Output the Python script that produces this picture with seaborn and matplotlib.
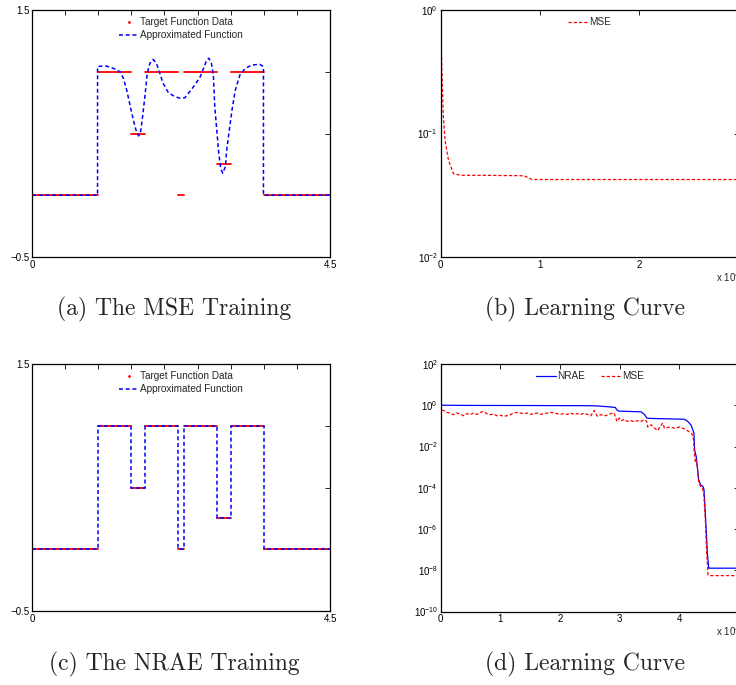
import numpy as np
import pandas as pd
import matplotlib
matplotlib.use("Agg")
import matplotlib.pyplot as plt
from matplotlib.lines import Line2D
from matplotlib.ticker import NullLocator
import seaborn as sns

# ---- target step function (same in both fits) ----
seg_start = [0.0, 1.0, 1.5, 1.7, 2.2, 2.3, 2.8, 3.0, 3.5]
seg_end = [1.0, 1.5, 1.7, 2.2, 2.3, 2.8, 3.0, 3.5, 4.5]
seg_level = [0.0, 1.0, 0.5, 1.0, 0.0, 1.0, 0.25, 1.0, 0.0]

# ---- (a) function approximated by the MSE training ----
mse_fit_x = [0.0, 0.99, 0.99, 1.03, 1.13, 1.23, 1.33, 1.38, 1.43, 1.48, 1.53, 1.57,
             1.61, 1.64, 1.67, 1.71, 1.74, 1.78, 1.83, 1.88, 1.93, 1.98, 2.06, 2.16,
             2.24, 2.31, 2.36, 2.46, 2.54, 2.59, 2.64, 2.67, 2.71, 2.74, 2.76, 2.79,
             2.82, 2.85, 2.88, 2.92, 2.94, 2.98, 3.02, 3.07, 3.14, 3.22, 3.32, 3.44,
             3.48, 3.495, 3.495, 4.5]
mse_fit_y = [0.0, 0.0, 1.04, 1.045, 1.045, 1.027, 1.0, 0.946, 0.852, 0.73, 0.61, 0.528,
             0.48, 0.515, 0.636, 0.825, 0.987, 1.068, 1.10, 1.068, 0.987, 0.906, 0.83, 0.798,
             0.785, 0.79, 0.825, 0.893, 0.96, 1.027, 1.095, 1.11, 1.068, 0.96, 0.717, 0.528,
             0.34, 0.218, 0.178, 0.231, 0.366, 0.528, 0.69, 0.852, 0.974, 1.027, 1.055, 1.06,
             1.046, 1.04, 0.0, 0.0]

# ---- (b) learning curve of the MSE training (x in units of 1e4) ----
curve_b_x = [0.0, 0.003, 0.01, 0.027, 0.044, 0.078, 0.128, 0.2, 0.5, 0.836, 0.88, 0.92,
             1.5, 2.0, 3.0]
curve_b_mse = [1.0, 0.7, 0.35, 0.136, 0.088, 0.061, 0.0474, 0.0459, 0.0458, 0.0455,
               0.044, 0.0424, 0.0424, 0.0424, 0.0424]

# ---- (d) learning curves of the NRAE training (x in units of 1e4) ----
nrae_x = [0.0, 0.01, 0.03, 0.5, 1.5, 2.5, 2.62, 2.8, 2.93, 2.96, 2.99, 3.36, 3.42, 3.46,
          3.5, 4.09, 4.15, 4.2, 4.249, 4.26, 4.288, 4.305, 4.328, 4.362, 4.401, 4.418,
          4.446, 4.474, 4.497, 5.0]
nrae_y = [2.2, 1.1, 1.0, 0.98, 0.97, 0.95, 0.93, 0.85, 0.78, 0.58, 0.52, 0.48, 0.35, 0.24,
          0.23, 0.21, 0.16, 0.11, 0.045, 6.9e-3, 3.2e-3, 1.07e-3, 2.4e-4, 1.38e-4, 1.15e-4,
          7.9e-5, 2.75e-6, 6.8e-8, 1.26e-8, 1.26e-8]
mse_d_x = [0.0, 0.01, 0.044, 0.101, 0.157, 0.213, 0.269, 0.326, 0.382, 0.438, 0.494,
           0.550, 0.607, 0.663, 0.719, 0.775, 0.831, 0.888, 0.944, 1.000, 1.056, 1.112,
           1.169, 1.225, 1.281, 1.337, 1.393, 1.450, 1.506, 1.562, 1.618, 1.674, 1.731,
           1.787, 1.843, 1.899, 1.956, 2.012, 2.068, 2.124, 2.180, 2.237, 2.293, 2.349,
           2.405, 2.461, 2.518, 2.574, 2.630, 2.686, 2.77, 2.85, 2.91, 2.957, 2.996, 3.036,
           3.08, 3.136, 3.193, 3.25, 3.305, 3.36, 3.417, 3.457, 3.474, 3.53, 3.586, 3.643,
           3.688, 3.727, 3.755, 3.84, 3.923, 4.008, 4.092, 4.16, 4.216, 4.243, 4.255,
           4.275, 4.288, 4.305, 4.328, 4.362, 4.401, 4.418, 4.44, 4.463, 4.486, 4.5, 5.0]
mse_d_y = [1.0, 0.6, 0.56, 0.45, 0.42, 0.35, 0.42, 0.37, 0.31, 0.39, 0.35, 0.42, 0.36,
           0.45, 0.50, 0.39, 0.35, 0.37, 0.31, 0.33, 0.29, 0.31, 0.35, 0.42, 0.45, 0.42,
           0.39, 0.42, 0.36, 0.39, 0.42, 0.36, 0.39, 0.42, 0.45, 0.42, 0.39, 0.37, 0.39,
           0.36, 0.42, 0.36, 0.39, 0.35, 0.42, 0.36, 0.31, 0.56, 0.29, 0.35, 0.31, 0.39,
           0.42, 0.164, 0.24, 0.18, 0.21, 0.164, 0.18, 0.158, 0.18, 0.164, 0.198, 0.164,
           0.087, 0.113, 0.078, 0.060, 0.10, 0.136, 0.078, 0.087, 0.078, 0.087, 0.070,
           0.054, 0.041, 0.021, 4.8e-3, 1.6e-3, 2.2e-3, 1.07e-3, 2e-4, 1.15e-4, 7.9e-5,
           3.7e-5, 2.75e-6, 6.8e-8, 5.9e-9, 5.5e-9, 5.5e-9]

# ---- ticks and captions ----
fn_xticks = [0, 0.5, 1.0, 1.5, 2.0, 2.5, 3.0, 3.5, 4.0, 4.5]
fn_xlabels = ["0", "", "", "", "", "", "", "", "", "4.5"]
fn_yticks = [-0.5, 0.0, 0.5, 1.0, 1.5]
fn_ylabels = ["\u22120.5", "", "", "", "1.5"]
b_xticks = [0, 1, 2, 3]
b_yticks = [1e-2, 1e-1, 1e0]
d_xticks = [0, 1, 2, 3, 4, 5]
d_yticks = [1e-10, 1e-8, 1e-6, 1e-4, 1e-2, 1e0, 1e2]
captions = ["(a) The MSE Training", "(b) Learning Curve",
            "(c) The NRAE Training", "(d) Learning Curve"]

sns.set_style("white")
plt.rcParams["font.family"] = ["Liberation Sans", "DejaVu Sans"]

W, H = 736, 685
fig = plt.figure(figsize=(W / 100, H / 100), dpi=100)


def px_axes(left, top, right, bottom):
    return fig.add_axes([left / W, 1 - bottom / H, (right - left) / W, (bottom - top) / H])


def style_axes(ax):
    for sp in ax.spines.values():
        sp.set_visible(True)
        sp.set_linewidth(0.9)
        sp.set_color("black")
    ax.tick_params(which="both", direction="in", top=True, right=True, length=3.5,
                   width=0.6, labelsize=7, pad=2, colors="black")
    ax.set_xlabel("")
    ax.set_ylabel("")


def target_frame():
    rows = []
    for i, (s, e, lv) in enumerate(zip(seg_start, seg_end, seg_level)):
        rows.append((i, s, lv))
        rows.append((i, e, lv))
    return pd.DataFrame(rows, columns=["seg", "x", "y"])


def step_frame():
    xs, ys = [], []
    for s, e, lv in zip(seg_start, seg_end, seg_level):
        xs += [s, e]
        ys += [lv, lv]
    return pd.DataFrame({"x": xs, "y": ys})


blue_dash = (0, (2.6, 1.8))
red_dash = (0, (2.6, 1.6))


def function_panel(ax, fit_df):
    sns.lineplot(data=target_frame(), x="x", y="y", units="seg", estimator=None,
                 color="red", lw=1.3, ax=ax)
    sns.lineplot(data=fit_df, x="x", y="y", sort=False, estimator=None,
                 color="blue", lw=1.1, linestyle=blue_dash, ax=ax)
    ax.set_xlim(0, 4.5)
    ax.set_ylim(-0.5, 1.5)
    ax.set_xticks(fn_xticks)
    ax.set_xticklabels(fn_xlabels)
    ax.set_yticks(fn_yticks)
    ax.set_yticklabels(fn_ylabels)
    style_axes(ax)
    handles = [Line2D([], [], color="red", marker=".", markersize=2, lw=0),
               Line2D([], [], color="blue", lw=1.1, linestyle=blue_dash)]
    ax.legend(handles, ["Target Function Data", "Approximated Function"],
              loc="upper center", frameon=False, fontsize=7.2, handlelength=2.0,
              handletextpad=0.1, labelspacing=0.3, borderaxespad=0.3,
              bbox_to_anchor=(0.5, 1.0))


# (a)
ax_a = px_axes(32, 10, 330, 257)
function_panel(ax_a, pd.DataFrame({"x": mse_fit_x, "y": mse_fit_y}))

# (c)
ax_c = px_axes(32, 364, 330, 611)
function_panel(ax_c, step_frame())

# (b)
ax_b = px_axes(440.7, 10, 738.7, 257)
sns.lineplot(x=curve_b_x, y=curve_b_mse, sort=False, estimator=None, color="red",
             lw=0.9, linestyle=red_dash, ax=ax_b)
ax_b.set_yscale("log")
ax_b.set_xlim(0, 3)
ax_b.set_ylim(1e-2, 1e0)
ax_b.set_xticks(b_xticks)
ax_b.set_yticks(b_yticks)
ax_b.yaxis.set_minor_locator(NullLocator())
style_axes(ax_b)
ax_b.legend([Line2D([], [], color="red", lw=0.9, linestyle=red_dash)], ["MSE"],
            loc="upper center", frameon=False, fontsize=7.2, handlelength=2.0,
            handletextpad=0.1, borderaxespad=0.3)

# (d)
ax_d = px_axes(440.7, 364, 738.7, 611.5)
sns.lineplot(x=nrae_x, y=nrae_y, sort=False, estimator=None, color="blue", lw=0.9, ax=ax_d)
sns.lineplot(x=mse_d_x, y=mse_d_y, sort=False, estimator=None, color="red", lw=0.9,
             linestyle=red_dash, ax=ax_d)
ax_d.set_yscale("log")
ax_d.set_xlim(0, 5)
ax_d.set_ylim(1e-10, 1e2)
ax_d.set_xticks(d_xticks)
ax_d.set_yticks(d_yticks)
ax_d.yaxis.set_minor_locator(NullLocator())
style_axes(ax_d)
ax_d.legend([Line2D([], [], color="blue", lw=0.9),
             Line2D([], [], color="red", lw=0.9, linestyle=red_dash)], ["NRAE", "MSE"],
            loc="upper center", ncol=2, frameon=False, fontsize=7.2, handlelength=2.0,
            handletextpad=0.1, columnspacing=1.6, borderaxespad=0.3)

# exponent labels of the learning-curve x axes (cut by the right edge, as in the source)
fig.text(716 / W, 1 - 282 / H, r"x 10$^4$", fontsize=7, ha="left", va="baseline")
fig.text(716 / W, 1 - 636 / H, r"x 10$^4$", fontsize=7, ha="left", va="baseline")

# sub-figure captions
cap_pos = [(174, 309), (585, 309), (174, 664), (585, 664)]
for (cx, cy), txt in zip(cap_pos, captions):
    fig.text(cx / W, 1 - cy / H, txt, family="cmr10", fontsize=17, ha="center", va="center")

fig.savefig("out.png", dpi=100)
